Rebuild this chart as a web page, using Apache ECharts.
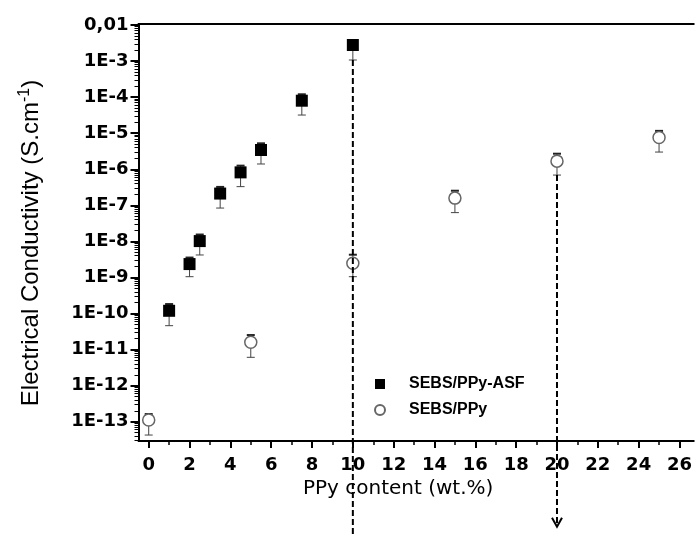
<!DOCTYPE html>
<html><head><meta charset="utf-8">
<script src="https://cdn.jsdelivr.net/npm/echarts@6/dist/echarts.min.js"></script>
<style>html,body{margin:0;padding:0;background:#fff}#c{width:695px;height:536px}</style>
</head><body><div id="c"></div><script>
// SEBS/PPy-ASF (filled squares), conductivity in S/cm
const asfX    = [1, 2, 2.5, 3.5, 4.5, 5.5, 7.5, 10];
const asfVal  = [1.19e-10, 2.35e-9, 1.02e-8, 2.12e-7, 8.2e-7, 3.42e-6, 7.96e-5, 2.79e-3];
const asfLow  = [4.6e-11, 1.05e-9, 4.2e-9, 8.4e-8, 3.3e-7, 1.40e-6, 3.19e-5, 1.07e-3];
const asfHigh = [1.83e-10, 3.56e-9, 1.55e-8, 3.24e-7, 1.26e-6, 5.24e-6, 1.20e-4, 3.84e-3];
// SEBS/PPy (open circles)
const ppyX    = [0, 5, 10, 15, 20, 25];
const ppyVal  = [1.11e-13, 1.59e-11, 2.49e-9, 1.585e-7, 1.68e-6, 7.59e-6];
const ppyLow  = [4.27e-14, 6.10e-12, 1.05e-9, 6.28e-8, 6.9e-7, 3.0e-6];
const ppyHigh = [1.63e-13, 2.53e-11, 4.27e-9, 2.54e-7, 2.70e-6, 1.16e-5];
// dashed guide lines (x, start value, end value, arrow)
const guideX     = [10, 20];
const guideFrom  = [1.07e-3, 6.9e-7];
const guideTo    = [5e-17, 1.22e-16];
const guideArrow = [0, 1];
// ticks
const yTickExp   = [-13, -12, -11, -10, -9, -8, -7, -6, -5, -4, -3, -2];
const yTickLabel = ['1E-13','1E-12','1E-11','1E-10','1E-9','1E-8','1E-7','1E-6','1E-5','1E-4','1E-3','0,01'];
const xMajor = [0, 2, 4, 6, 8, 10, 12, 14, 16, 18, 20, 22, 24, 26];
const xMinor = [1, 3, 5, 7, 9, 11, 13, 15, 17, 19, 21, 23, 25];

const L = Math.log10;
const yMinor = [];
for (let e = -14; e <= -3; e++) for (let k = 2; k <= 9; k++) {
  const v = L(k) + e;
  if (v > -13.535 && v < -1.972) yMinor.push(v);
}
const XMIN = -0.5, XMAX = 26.7, YMIN = -13.535, YMAX = -1.972;

const chart = echarts.init(document.getElementById('c'), null, {renderer: 'canvas'});
const tickFont = {fontFamily: 'DejaVu Sans', fontWeight: 'bold', fontSize: 18, color: '#000'};

function errRender(params, api) {
  const x = api.value(0), lo = api.value(1), hi = api.value(2);
  const a = api.coord([x, lo]), b = api.coord([x, hi]);
  const cw = 4, st = {stroke: '#444', lineWidth: 1};
  return {type: 'group', children: [
    {type: 'line', shape: {x1: a[0], y1: a[1], x2: b[0], y2: b[1]}, style: st},
    {type: 'line', shape: {x1: a[0]-cw, y1: a[1], x2: a[0]+cw, y2: a[1]}, style: st},
    {type: 'line', shape: {x1: b[0]-cw, y1: b[1], x2: b[0]+cw, y2: b[1]}, style: {stroke: '#222', lineWidth: 2}}
  ]};
}
function guideRender(params, api) {
  const x = api.value(0);
  const a = api.coord([x, api.value(1)]), b = api.coord([x, api.value(2)]);
  const ch = [{type: 'line', shape: {x1: a[0], y1: a[1], x2: b[0], y2: b[1]},
    style: {stroke: '#000', lineWidth: 2, lineDash: [6, 3]}}];
  if (api.value(3)) ch.push({type: 'polyline', shape: {points: [[b[0]-5, b[1]-9], [b[0], b[1]], [b[0]+5, b[1]-9]]},
    style: {stroke: '#000', lineWidth: 2, fill: null}});
  return {type: 'group', children: ch};
}

const option = {
  animation: false,
  backgroundColor: '#fff',
  grid: {left: 138.5, right: 0, top: 24, bottom: 95, containLabel: false},
  legend: {
    orient: 'vertical', left: 369, top: 371, itemWidth: 48, itemHeight: 10, itemGap: 10,
    textStyle: {fontFamily: 'Liberation Sans', fontWeight: 'bold', fontSize: 16, color: '#000'},
    data: [{name: 'SEBS/PPy-ASF', icon: 'path://M0,0H10V10H0Z'}, {name: 'SEBS/PPy', icon: 'circle'}]
  },
  xAxis: [
    {type: 'value', min: XMIN, max: XMAX, position: 'bottom',
     axisLine: {show: true, onZero: false, lineStyle: {color: '#000', width: 2}},
     axisTick: {show: true, length: 7, customValues: xMajor, lineStyle: {color: '#000', width: 2}},
     axisLabel: {customValues: xMajor, margin: 15, ...tickFont},
     splitLine: {show: false},
     name: 'PPy content (wt.%)', nameLocation: 'middle', nameGap: 38,
     nameTextStyle: {fontFamily: 'DejaVu Sans', fontSize: 20, color: '#000', padding: [0, 36, 0, 0]}},
    {type: 'value', min: XMIN, max: XMAX, position: 'bottom',
     axisLine: {show: false, onZero: false},
     axisTick: {show: true, length: 4, customValues: xMinor, lineStyle: {color: '#000', width: 1.5}},
     axisLabel: {show: false}, splitLine: {show: false}},
    {type: 'value', min: XMIN, max: XMAX, position: 'top',
     axisLine: {show: true, onZero: false, lineStyle: {color: '#000', width: 2}},
     axisTick: {show: false}, axisLabel: {show: false}, splitLine: {show: false}}
  ],
  yAxis: [
    {type: 'value', min: YMIN, max: YMAX, position: 'left',
     axisLine: {show: true, onZero: false, lineStyle: {color: '#000', width: 2}},
     axisTick: {show: true, length: 8, customValues: yTickExp, lineStyle: {color: '#000', width: 2}},
     axisLabel: {customValues: yTickExp, margin: 10, ...tickFont,
       formatter: v => yTickLabel[yTickExp.indexOf(Math.round(v))]},
     splitLine: {show: false},
     name: 'Electrical Conductivity (S.cm{sup|-1})', nameLocation: 'middle', nameGap: 92, nameRotate: 90,
     nameTextStyle: {fontFamily: 'Liberation Sans', fontSize: 24, lineHeight: 30, color: '#000', padding: [0, 21, 0, 0],
       rich: {sup: {fontFamily: 'Liberation Sans', fontSize: 16, color: '#000', verticalAlign: 'top', lineHeight: 16}}}},
    {type: 'value', min: YMIN, max: YMAX, position: 'left',
     axisLine: {show: false, onZero: false},
     axisTick: {show: true, length: 4, customValues: yMinor, lineStyle: {color: '#000', width: 1}},
     axisLabel: {show: false}, splitLine: {show: false}}
  ],
  series: [
    {type: 'custom', name: 'errASF', renderItem: errRender, z: 2, silent: true,
     data: asfX.map((x, i) => [x, L(asfLow[i]), L(asfHigh[i])]), encode: {x: 0, y: [1, 2]}},
    {type: 'custom', name: 'errPPy', renderItem: errRender, z: 2, silent: true,
     data: ppyX.map((x, i) => [x, L(ppyLow[i]), L(ppyHigh[i])]), encode: {x: 0, y: [1, 2]}},
    {type: 'scatter', name: 'SEBS/PPy-ASF', symbol: 'rect', symbolSize: 12, z: 3,
     itemStyle: {color: '#000', opacity: 1},
     data: asfX.map((x, i) => [x, L(asfVal[i])])},
    {type: 'scatter', name: 'SEBS/PPy', symbol: 'circle', symbolSize: 12, z: 3,
     itemStyle: {color: '#fff', borderColor: '#666', borderWidth: 1.5, opacity: 1},
     data: ppyX.map((x, i) => [x, L(ppyVal[i])])},
    {type: 'custom', name: 'guides', renderItem: guideRender, z: 4, silent: true, clip: false,
     data: guideX.map((x, i) => [x, L(guideFrom[i]), L(guideTo[i]), guideArrow[i]]), encode: {x: 0, y: [1, 2]}}
  ]
};
chart.setOption(option);
</script></body></html>
